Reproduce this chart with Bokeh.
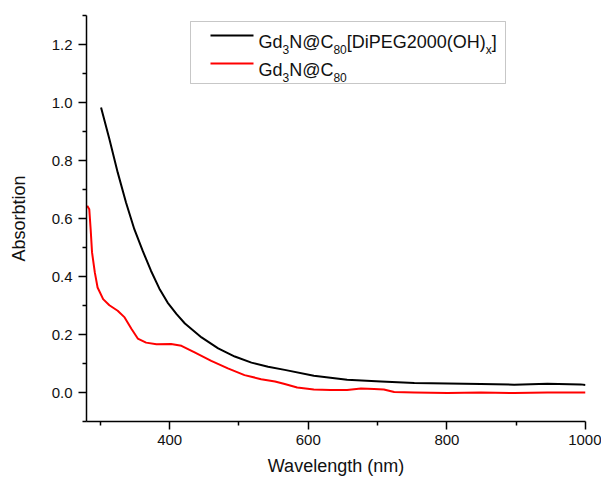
from bokeh.plotting import figure
from bokeh.models import FixedTicker, BoxAnnotation, Label, PrintfTickFormatter
from bokeh.embed import file_html
from bokeh.resources import INLINE

# ---------------- data ----------------
black_nm = [301, 313, 325, 337, 349, 361, 373, 385, 397, 410, 422, 446, 470, 494,
            518, 542, 566, 608, 656, 705, 753, 801, 849, 897, 945, 993, 1000]
black_abs = [0.983, 0.874, 0.759, 0.655, 0.563, 0.489, 0.420, 0.359, 0.310, 0.270,
             0.238, 0.190, 0.152, 0.124, 0.103, 0.089, 0.078, 0.058, 0.044, 0.038,
             0.033, 0.031, 0.029, 0.027, 0.030, 0.028, 0.026]

red_nm = [281, 284, 286, 288, 292, 296, 304, 313, 325, 335, 345, 354, 366, 381,
          402, 417, 436, 460, 484, 508, 532, 552, 566, 584, 608, 632, 656, 676,
          695, 709, 724, 753, 801, 849, 897, 945, 1000]
red_abs = [0.644, 0.632, 0.563, 0.483, 0.414, 0.362, 0.322, 0.301, 0.282, 0.259,
           0.219, 0.186, 0.172, 0.166, 0.167, 0.161, 0.138, 0.109, 0.083, 0.060,
           0.046, 0.038, 0.029, 0.017, 0.010, 0.009, 0.009, 0.014, 0.012, 0.010,
           0.002, 0.000, -0.002, 0.000, -0.002, 0.000, 0.000]

x_major = [400, 600, 800, 1000]
x_minor = [300, 500, 700, 900]
y_major = [0.0, 0.2, 0.4, 0.6, 0.8, 1.0, 1.2]
y_minor = [-0.1, 0.1, 0.3, 0.5, 0.7, 0.9, 1.1, 1.3]

series1_label = [("Gd", False), ("3", True), ("N@C", False), ("80", True),
                 ("[DiPEG2000(OH)", False), ("x", True), ("]", False)]
series2_label = [("Gd", False), ("3", True), ("N@C", False), ("80", True)]

X0, X1 = 280, 1000
Y0, Y1 = -0.1, 1.3

FONT = "Liberation Sans"

p = figure(width=601, height=480, output_backend="svg", toolbar_location=None,
           x_range=(X0, X1), y_range=(Y0, Y1),
           min_border_left=86, min_border_right=16, min_border_top=15,
           min_border_bottom=59)
p.grid.visible = False
p.outline_line_color = None
p.background_fill_color = "white"
p.border_fill_color = "white"

p.line(black_nm, black_abs, line_color="black", line_width=2, line_join="round")
p.line(red_nm, red_abs, line_color="#ff0000", line_width=2, line_join="round")

for ax in (p.xaxis[0], p.yaxis[0]):
    ax.axis_line_color = "black"
    ax.axis_line_width = 1.5
    ax.major_tick_line_color = "black"
    ax.minor_tick_line_color = "black"
    ax.major_tick_line_width = 1.5
    ax.minor_tick_line_width = 1.5
    ax.major_tick_in = 0
    ax.major_tick_out = 8
    ax.minor_tick_in = 0
    ax.minor_tick_out = 4
    ax.major_label_text_font = FONT
    ax.major_label_text_font_size = "15px"
    ax.major_label_text_color = "#111111"
    ax.axis_label_text_font = FONT
    ax.axis_label_text_font_size = "18px"
    ax.axis_label_text_font_style = "normal"
    ax.axis_label_text_color = "#111111"

p.xaxis.ticker = FixedTicker(ticks=x_major, minor_ticks=x_minor)
p.yaxis.ticker = FixedTicker(ticks=y_major, minor_ticks=y_minor)
p.yaxis.formatter = PrintfTickFormatter(format="%.1f")
p.xaxis.axis_label = "Wavelength (nm)"
p.yaxis.axis_label = "Absorbtion"
p.xaxis.major_label_standoff = 5
p.xaxis.axis_label_standoff = 8
p.yaxis.major_label_standoff = 6
p.yaxis.axis_label_standoff = 20

# ---------------- legend (drawn by hand for subscripts) ----------------
FL, FR, FT, FB = 86, 585, 15, 421   # frame in page pixels


def dx(px):
    return X0 + (px - FL) * (X1 - X0) / (FR - FL)


def dy(py):
    return Y1 - (py - FT) * (Y1 - Y0) / (FB - FT)


box = BoxAnnotation(left=dx(190), right=dx(505), top=dy(21), bottom=dy(83),
                    fill_color="white", fill_alpha=1.0, line_color="#444444",
                    line_width=1, level="underlay")
p.add_layout(box)

p.line([dx(210), dx(253)], [dy(35), dy(35)], line_color="black", line_width=2)
p.line([dx(210), dx(253)], [dy(63), dy(63)], line_color="#ff0000", line_width=2)

W = {"G": .778, "d": .556, "N": .722, "@": 1.015, "C": .722, "[": .278, "D": .722,
     "i": .222, "P": .667, "E": .667, "O": .778, "H": .722, "(": .333, ")": .333,
     "]": .278, "x": .5}
for c in "0123456789":
    W[c] = .556

MAIN, SUB = 18, 12


def draw_label(parts, x_px, base_px):
    x = x_px
    for txt, sub in parts:
        size = SUB if sub else MAIN
        by = base_px + (7.5 if sub else 0)
        p.add_layout(Label(x=dx(x), y=dy(by), text=txt, text_font=FONT,
                           text_font_size=f"{size}px", text_color="#111111",
                           text_baseline="alphabetic", text_align="left"))
        x += sum(W.get(c, .556) for c in txt) * size


draw_label(series1_label, 258, 41.5)
draw_label(series2_label, 258, 69.5)

open("out.html", "w").write(file_html(p, INLINE))
